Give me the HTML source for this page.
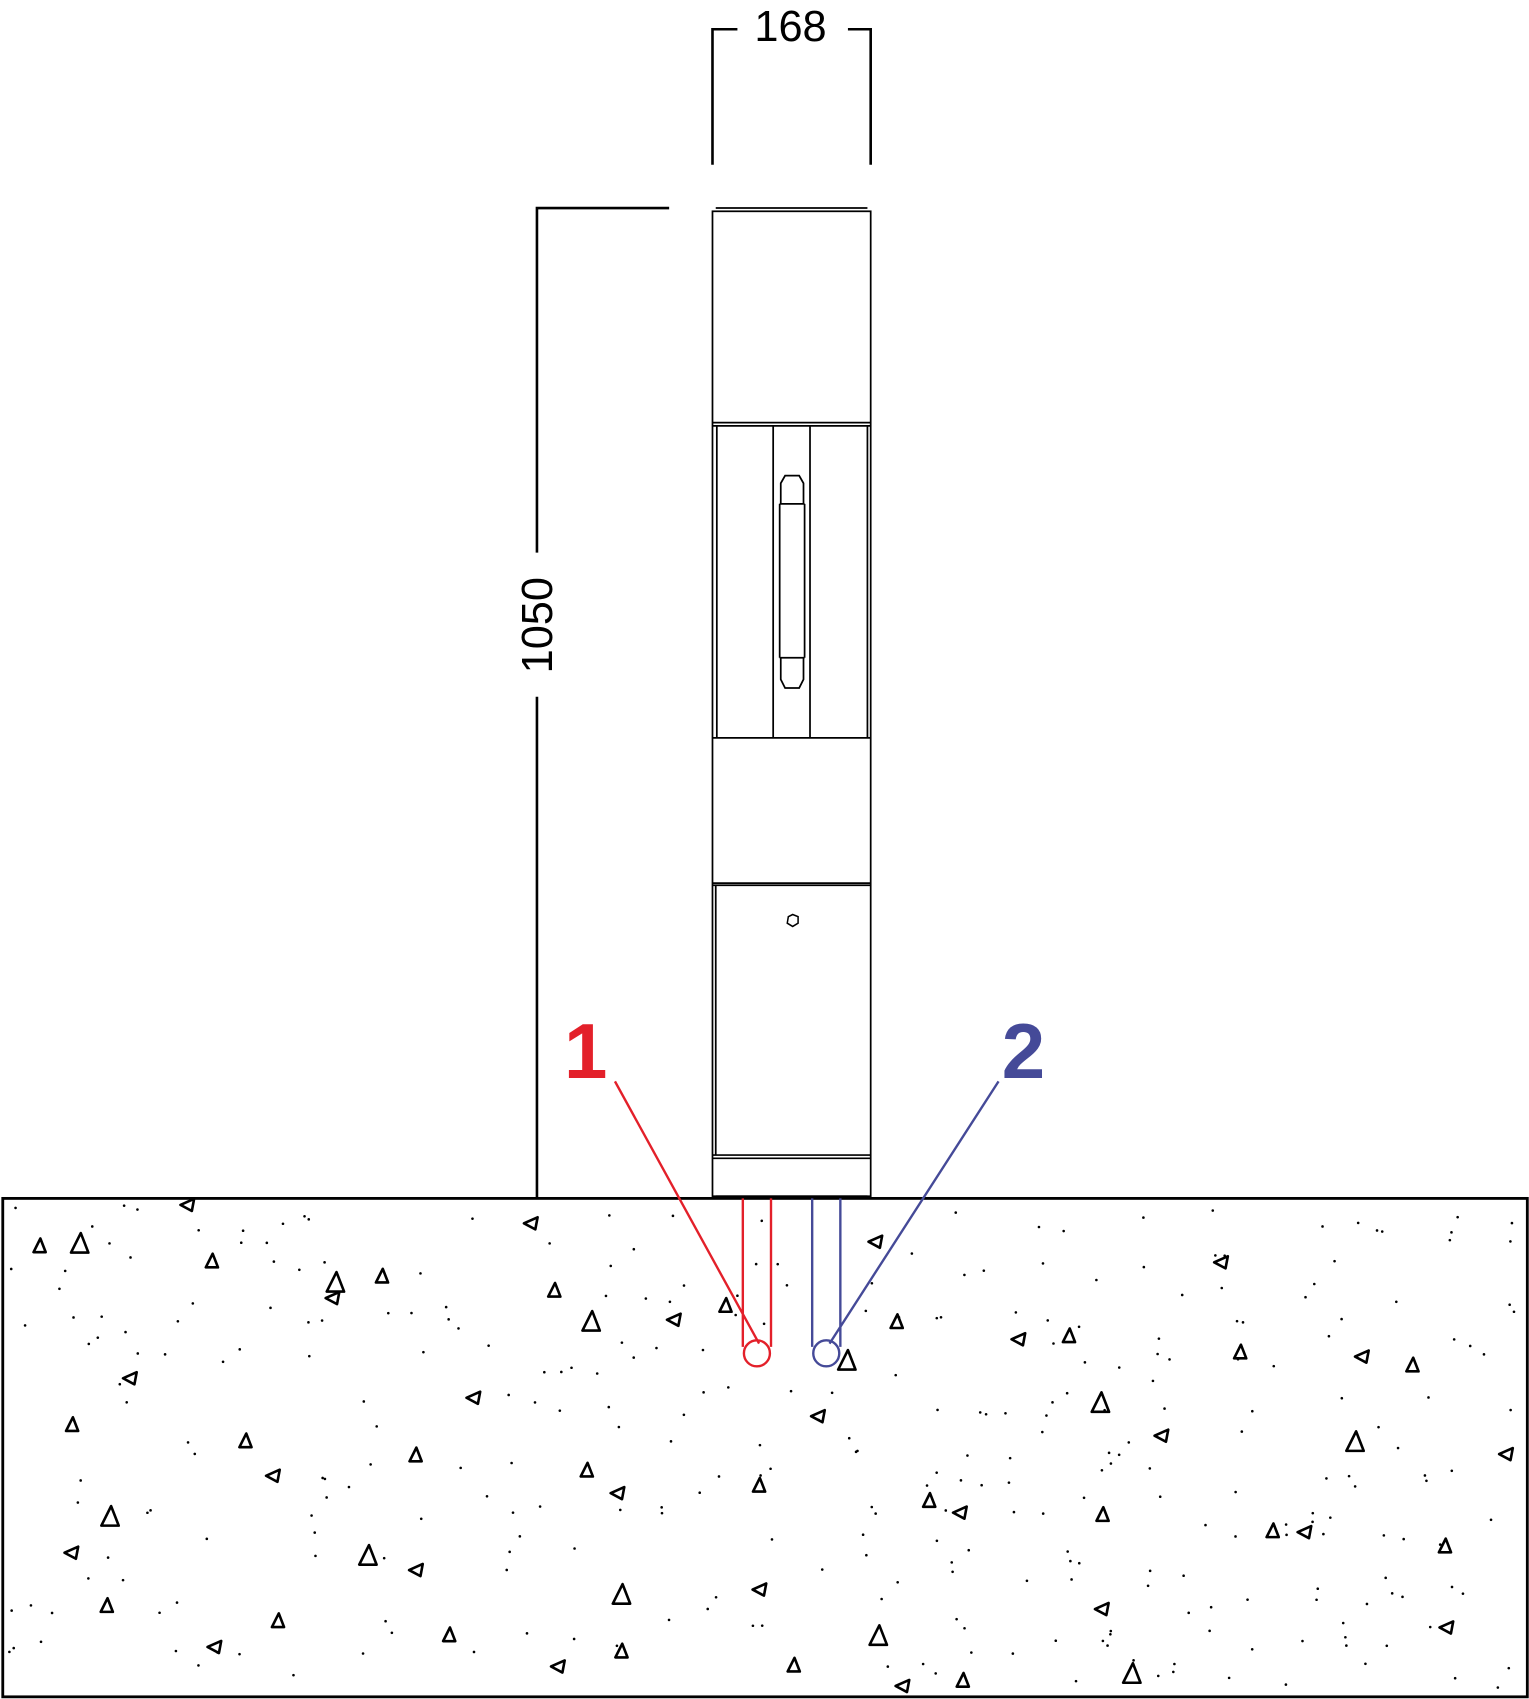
<!DOCTYPE html>
<html><head><meta charset="utf-8"><style>html,body{margin:0;padding:0;background:#fff}svg{display:block}</style></head>
<body>
<svg id="s" width="1529" height="1699" viewBox="0 0 1410 1568" xmlns="http://www.w3.org/2000/svg">
<g fill="none" stroke="#000" stroke-width="1.6">
<path d="M657 152V27H680M782 27H803V152" stroke-width="2.4"/>
<path d="M617 192H495V510M495 643V1106" stroke-width="2.4"/>
<rect x="657" y="195" width="146" height="909"/>
<path d="M660 192H800M657 390H803M657 393H803M661 393V681M800 393V681M713 393V681M747 393V681M657 681H803M657 815H803M657 817H803M660 817V1066M657 1066H803M657 1069H803M660 1104H800"/>
<path d="M719 465V607M742 465V607M719 465H742M719 607H742"/>
<path d="M720 465V446L724 439H737L741 446V465M720 607V627L724 635H737L741 627V607"/>
<path d="M727 846L731 844L736 846L736 852L731 855L726 852Z" stroke-width="1.4"/>
<rect x="2" y="1106" width="1407" height="460" stroke-width="2.6"/>
</g>
<text x="729" y="38" font-family="Liberation Sans, sans-serif" font-size="40" text-anchor="middle">168</text>
<text transform="translate(509,577) rotate(-90)" font-family="Liberation Sans, sans-serif" font-size="40" text-anchor="middle">1050</text>
<g fill="none" stroke-width="2.2">
<path d="M685 1106V1243M711 1106V1243M567 998L700 1240" stroke="#e3202a"/>
<circle cx="698" cy="1249" r="12" stroke="#e3202a"/>
<path d="M749 1106V1243M775 1106V1243M921 998L765 1240" stroke="#454a98"/>
<circle cx="762" cy="1249" r="12" stroke="#454a98"/>
</g>
<text x="540" y="995" font-family="Liberation Sans, sans-serif" font-weight="bold" font-size="72" fill="#e3202a" text-anchor="middle">1</text>
<text x="944" y="995" font-family="Liberation Sans, sans-serif" font-weight="bold" font-size="72" fill="#454a98" text-anchor="middle">2</text>
<g id="tri" fill="none" stroke="#000" stroke-width="2.4" stroke-linejoin="round"></g>
<g id="dots" fill="#000"></g>
</svg>
<script>
var T=[[173,1112,7,90],[36,1150,7,0],[73,1148,10,0],[195,1164,7,0],[490,1129,7,90],[309,1184,10,0],[307,1198,7,90],[352,1178,7,0],[511,1191,7,0],[545,1220,10,0],[622,1218,7,90],[669,1205,7,0],[808,1146,7,90],[827,1220,7,0],[781,1256,10,0],[940,1236,7,90],[986,1233,7,0],[1127,1165,7,90],[1144,1248,7,0],[1257,1252,7,90],[1303,1260,7,0],[120,1272,7,90],[66,1315,7,0],[226,1330,7,0],[252,1362,7,90],[383,1343,7,0],[437,1290,7,90],[541,1357,7,0],[570,1378,7,90],[700,1371,7,0],[755,1307,7,90],[1015,1295,10,0],[1072,1325,7,90],[1250,1331,10,0],[1390,1342,7,90],[101,1400,10,0],[66,1433,7,90],[339,1436,10,0],[384,1449,7,90],[573,1472,10,0],[701,1467,7,90],[857,1385,7,0],[886,1396,7,90],[1017,1398,7,0],[1174,1413,7,0],[1204,1414,7,90],[1333,1427,7,0],[98,1482,7,0],[198,1520,7,90],[256,1496,7,0],[414,1509,7,0],[515,1538,7,90],[573,1524,7,0],[732,1537,7,0],[810,1510,10,0],[833,1556,7,90],[888,1551,7,0],[1017,1485,7,90],[1044,1545,10,0],[1335,1502,7,90]];
var g=document.getElementById('tri'),h='';
T.forEach(function(t){var x=t[0],y=t[1],s=t[2],p;
if(t[3]==0)p=[[x-s*0.8,y+s*0.8],[x+s*0.8,y+s*0.8],[x+s*0.1,y-s]];
else p=[[x-s,y],[x+s*0.8,y-s*0.8],[x+s*0.5,y+s*0.8]];
h+='<polygon points="'+p.map(function(q){return q.join(',')}).join(' ')+'"/>';});
g.innerHTML=h;
var seed=7;function r(){seed=(seed*16807)%2147483647;return seed/2147483647;}
var d='';for(var i=0;i<320;i++){d+='<circle cx="'+(8+r()*1394).toFixed(1)+'" cy="'+(1112+r()*448).toFixed(1)+'" r="1.2"/>';}
document.getElementById('dots').innerHTML=d;
</script>
</body></html>
